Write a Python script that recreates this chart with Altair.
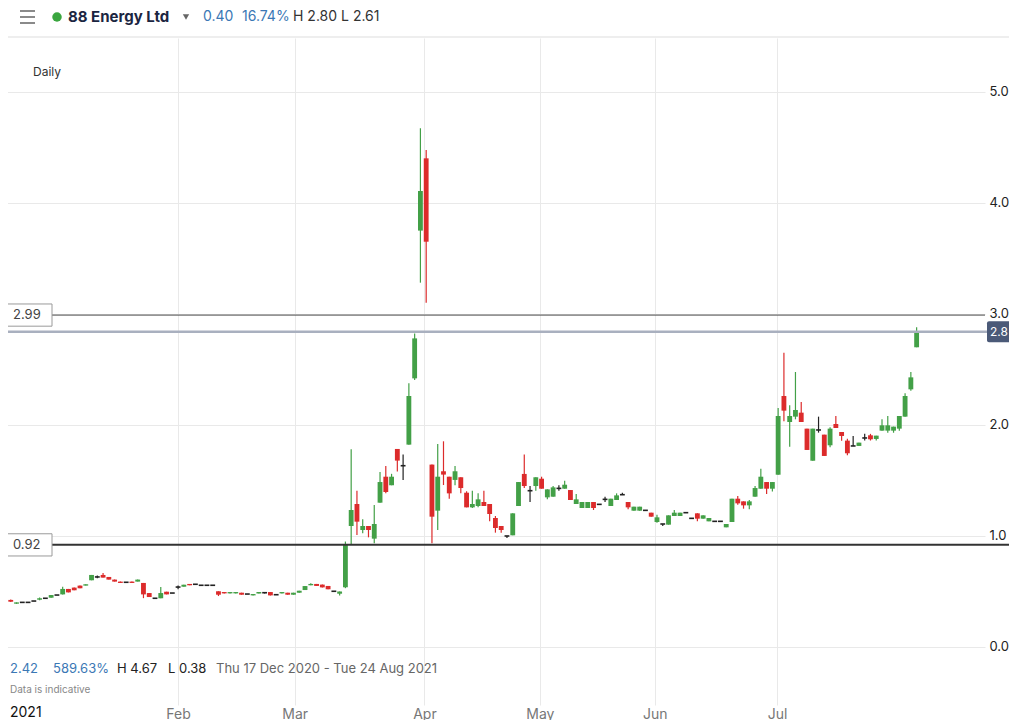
import altair as alt
import pandas as pd

# ---- OHLC data (one candle per trading day) ----
opens = [0.44, 0.424, 0.39, 0.402, 0.402, 0.414, 0.426, 0.439, 0.444, 0.468,
         0.474, 0.523, 0.535, 0.553, 0.553, 0.601, 0.631, 0.649, 0.631, 0.607,
         0.589, 0.583, 0.589, 0.589, 0.577, 0.486, 0.439, 0.439, 0.498, 0.486,
         0.54, 0.543, 0.568, 0.565, 0.556, 0.556, 0.556, 0.502, 0.495, 0.483,
         0.483, 0.489, 0.477, 0.465, 0.483, 0.489, 0.495, 0.471, 0.483, 0.489,
         0.471, 0.489, 0.513, 0.556, 0.568, 0.562, 0.55, 0.502, 0.48, 0.538,
         1.09, 1.288, 1.054, 1.09, 0.976, 1.30, 1.534, 1.457, 1.784, 1.633,
         1.823, 2.42, 3.751, 4.402, 1.643, 1.228, 1.583, 1.534, 1.505, 1.529,
         1.39, 1.258, 1.27, 1.306, 1.288, 1.162, 1.09, 1.0, 1.006, 1.27,
         1.559, 1.408, 1.45, 1.516, 1.348, 1.354, 1.429, 1.426, 1.414, 1.288,
         1.252, 1.252, 1.306, 1.285, 1.33, 1.27, 1.324, 1.372, 1.306, 1.228,
         1.228, 1.231, 1.21, 1.126, 1.108, 1.102, 1.18, 1.18, 1.21, 1.159,
         1.204, 1.156, 1.132, 1.132, 1.132, 1.078, 1.126, 1.336, 1.312, 1.276,
         1.354, 1.426, 1.486, 1.426, 1.552, 2.261, 2.027, 2.075, 2.111, 1.967,
         1.678, 1.955, 1.913, 1.817, 2.009, 1.937, 1.859, 1.811, 1.811, 1.883,
         1.907, 1.874, 1.949, 1.949, 1.949, 1.967, 2.075, 2.321, 2.70]
highs = [0.44, 0.428, 0.402, 0.402, 0.402, 0.414, 0.445, 0.442, 0.468, 0.468,
         0.543, 0.523, 0.535, 0.553, 0.565, 0.649, 0.645, 0.667, 0.631, 0.607,
         0.589, 0.583, 0.589, 0.607, 0.577, 0.486, 0.439, 0.541, 0.498, 0.486,
         0.555, 0.561, 0.568, 0.565, 0.556, 0.556, 0.556, 0.502, 0.495, 0.495,
         0.495, 0.489, 0.477, 0.477, 0.495, 0.495, 0.495, 0.471, 0.495, 0.489,
         0.489, 0.507, 0.549, 0.575, 0.568, 0.562, 0.55, 0.502, 0.50, 0.95,
         1.781, 1.408, 1.15, 1.09, 1.279, 1.577, 1.631, 1.56, 1.784, 1.733,
         2.375, 2.825, 4.673, 4.477, 1.643, 1.829, 1.853, 1.534, 1.631, 1.529,
         1.403, 1.408, 1.385, 1.408, 1.288, 1.18, 1.09, 1.0, 1.204, 1.486,
         1.733, 1.45, 1.529, 1.534, 1.42, 1.45, 1.456, 1.498, 1.414, 1.378,
         1.306, 1.306, 1.306, 1.285, 1.354, 1.336, 1.384, 1.39, 1.306, 1.264,
         1.264, 1.231, 1.21, 1.192, 1.108, 1.186, 1.234, 1.21, 1.21, 1.159,
         1.204, 1.186, 1.162, 1.132, 1.132, 1.108, 1.336, 1.36, 1.312, 1.324,
         1.45, 1.606, 1.486, 1.486, 2.153, 2.651, 2.177, 2.477, 2.207, 1.967,
         1.967, 2.075, 1.913, 1.98, 2.081, 1.937, 1.877, 1.901, 1.841, 1.92,
         1.92, 1.904, 2.051, 2.081, 1.985, 2.081, 2.285, 2.477, 2.88]
lows = [0.44, 0.405, 0.388, 0.402, 0.402, 0.414, 0.420, 0.436, 0.444, 0.468,
        0.474, 0.492, 0.511, 0.529, 0.553, 0.601, 0.62, 0.625, 0.607, 0.589,
        0.577, 0.583, 0.577, 0.589, 0.44, 0.45, 0.439, 0.439, 0.474, 0.486,
        0.52, 0.543, 0.556, 0.565, 0.556, 0.556, 0.556, 0.459, 0.483, 0.483,
        0.483, 0.471, 0.477, 0.465, 0.483, 0.483, 0.465, 0.471, 0.483, 0.471,
        0.471, 0.489, 0.513, 0.556, 0.55, 0.537, 0.52, 0.502, 0.465, 0.53,
        0.928, 1.009, 1.024, 0.988, 0.934, 1.30, 1.384, 1.457, 1.58, 1.505,
        1.823, 2.405, 3.282, 3.102, 0.934, 1.054, 1.459, 1.336, 1.457, 1.385,
        1.258, 1.252, 1.258, 1.27, 1.132, 1.03, 1.03, 0.982, 1.006, 1.27,
        1.432, 1.306, 1.408, 1.426, 1.33, 1.354, 1.408, 1.426, 1.324, 1.288,
        1.252, 1.252, 1.234, 1.285, 1.306, 1.27, 1.324, 1.372, 1.24, 1.228,
        1.228, 1.231, 1.174, 1.12, 1.09, 1.102, 1.18, 1.18, 1.21, 1.159,
        1.132, 1.156, 1.132, 1.132, 1.132, 1.078, 1.126, 1.282, 1.246, 1.24,
        1.354, 1.426, 1.378, 1.40, 1.552, 2.033, 1.805, 2.051, 2.027, 1.775,
        1.678, 1.931, 1.721, 1.80, 1.973, 1.859, 1.727, 1.811, 1.811, 1.86,
        1.86, 1.86, 1.949, 1.93, 1.93, 1.949, 2.075, 2.309, 2.70]
closes = [0.44, 0.408, 0.402, 0.402, 0.402, 0.414, 0.439, 0.439, 0.468, 0.468,
          0.523, 0.492, 0.511, 0.529, 0.565, 0.649, 0.631, 0.625, 0.607, 0.589,
          0.577, 0.583, 0.577, 0.607, 0.474, 0.45, 0.439, 0.486, 0.474, 0.486,
          0.54, 0.561, 0.556, 0.565, 0.556, 0.556, 0.556, 0.471, 0.483, 0.495,
          0.495, 0.471, 0.477, 0.477, 0.495, 0.489, 0.465, 0.471, 0.495, 0.471,
          0.489, 0.507, 0.549, 0.568, 0.55, 0.537, 0.52, 0.502, 0.50, 0.928,
          1.234, 1.129, 1.09, 1.054, 1.108, 1.486, 1.396, 1.534, 1.679, 1.633,
          2.261, 2.78, 4.108, 3.651, 1.174, 1.534, 1.553, 1.384, 1.583, 1.432,
          1.258, 1.288, 1.33, 1.27, 1.198, 1.072, 1.054, 1.0, 1.204, 1.486,
          1.45, 1.408, 1.529, 1.426, 1.42, 1.438, 1.429, 1.462, 1.324, 1.33,
          1.306, 1.306, 1.252, 1.285, 1.33, 1.336, 1.366, 1.372, 1.258, 1.264,
          1.264, 1.231, 1.174, 1.168, 1.108, 1.186, 1.21, 1.21, 1.21, 1.159,
          1.156, 1.186, 1.162, 1.132, 1.132, 1.108, 1.336, 1.294, 1.276, 1.312,
          1.432, 1.534, 1.426, 1.486, 2.081, 2.129, 2.081, 2.135, 2.027, 1.775,
          1.967, 1.955, 1.721, 1.967, 1.973, 1.901, 1.745, 1.811, 1.841, 1.883,
          1.871, 1.904, 1.997, 1.997, 1.985, 2.081, 2.261, 2.429, 2.84]

month_names = ["Feb", "Mar", "Apr", "May", "Jun", "Jul"]
month_pos = [30.0, 50.2, 72.7, 92.7, 112.6, 133.8]   # trading-day index of each month start
y_ticks = [0, 1, 2, 3, 4, 5]
level_values = [2.99, 0.92]
level_labels = ["2.99", "0.92"]
last_price = 2.84
last_label = "2.8"

GREEN = "#43a047"
RED = "#dc2b2b"
DOJI = "#222222"
BLUE = "#3b78b5"
FONT = "Inter"

PADL = -4          # plot starts at page x = 4, as in the reference
W, H = 981, 667


def px(page_x):
    """page x position -> plot x position"""
    return page_x - 8 - PADL


def py(page_y):
    """page y position -> plot y position"""
    return page_y - 38


df = pd.DataFrame({"i": list(range(len(opens))), "o": opens, "h": highs,
                   "l": lows, "c": closes})

xs = alt.Scale(domain=[-0.17, 169.85], nice=False, zero=False)
ys = alt.Scale(domain=[-0.5225, 5.486], nice=False, zero=False)

label_expr = " : ".join(
    f"abs(datum.value - {p}) < 0.01 ? '{n}'" for p, n in zip(month_pos, month_names)
) + " : ''"

xa = alt.Axis(values=month_pos, labelExpr=label_expr, title=None, grid=True,
              gridColor="#e9e9e9", ticks=False, domain=False, labelColor="#777777",
              labelFontSize=14, labelPadding=2, labelOverlap=False, labelFont=FONT)
ya = alt.Axis(orient="right", values=y_ticks, format=".1f", title=None, grid=True,
              gridColor="#e9e9e9", ticks=False, domain=False, labelColor="#222222",
              labelFontSize=13, labelPadding=4, labelFont=FONT)

color = alt.Color("dir:N", scale=alt.Scale(domain=["up", "down", "flat"],
                                            range=[GREEN, RED, DOJI]), legend=None)

base = alt.Chart(df).transform_calculate(
    dir="datum.c > datum.o + 0.004 ? 'up' : (datum.c < datum.o - 0.004 ? 'down' : 'flat')",
    xl="datum.i - 0.42",
    xr="datum.i + 0.42",
)

wicks = base.mark_rule(strokeWidth=1.2).encode(
    x=alt.X("i:Q", scale=xs, axis=xa),
    y=alt.Y("l:Q", scale=ys, axis=ya),
    y2="h:Q",
    color=color,
)
bodies = base.mark_rect().encode(
    x=alt.X("xl:Q", scale=xs, axis=xa),
    x2="xr:Q",
    y=alt.Y("o:Q", scale=ys, axis=ya),
    y2="c:Q",
    color=color,
)
dojis = base.transform_filter("datum.dir == 'flat'").mark_rule(strokeWidth=1.6).encode(
    x=alt.X("xl:Q", scale=xs, axis=xa),
    x2="xr:Q",
    y=alt.Y("c:Q", scale=ys, axis=ya),
    color=color,
)

# ---- horizontal level lines ----
lv = pd.DataFrame({"v": level_values, "t": level_labels})
line299 = alt.Chart(lv.iloc[[0]]).mark_rule(color="#4a4a4a", strokeWidth=1).encode(
    x=alt.value(px(52)), x2=alt.value(W), y=alt.Y("v:Q", scale=ys, axis=ya))
line092 = alt.Chart(lv.iloc[[1]]).mark_rule(color="#333333", strokeWidth=2).encode(
    x=alt.value(px(52)), x2=alt.value(W + 40), y=alt.Y("v:Q", scale=ys, axis=ya))
boxes = alt.Chart(lv).transform_calculate(
    top="datum.v + 0.1", bot="datum.v - 0.1"
).mark_rect(fill="white", stroke="#9a9a9a", strokeWidth=1).encode(
    x=alt.value(px(5)), x2=alt.value(px(52)),
    y=alt.Y("top:Q", scale=ys, axis=ya), y2="bot:Q")
box_text = alt.Chart(lv).mark_text(align="left", baseline="middle", fontSize=13,
                                   color="#444444", font=FONT).encode(
    x=alt.value(px(13)), y=alt.Y("v:Q", scale=ys, axis=ya), text="t:N")

lp = pd.DataFrame({"v": [last_price], "t": [last_label]})
price_line = alt.Chart(lp).mark_rule(color="#a9b0bf", strokeWidth=2.5).encode(
    x=alt.value(px(5)), x2=alt.value(px(988)), y=alt.Y("v:Q", scale=ys, axis=ya))
price_box = alt.Chart(lp).transform_calculate(
    top="datum.v + 0.095", bot="datum.v - 0.095"
).mark_rect(fill="#4b5a78", cornerRadius=2).encode(
    x=alt.value(px(987)), x2=alt.value(px(1020)),
    y=alt.Y("top:Q", scale=ys, axis=ya), y2="bot:Q")
price_text = alt.Chart(lp).mark_text(align="left", baseline="middle", fontSize=12,
                                     color="white", font=FONT).encode(
    x=alt.value(px(990)), y=alt.Y("v:Q", scale=ys, axis=ya), text="t:N")

one = pd.DataFrame({"k": [0]})


def txt(s, x, y, size=13, col="#333333", weight="normal", align="left"):
    return alt.Chart(one).mark_text(align=align, baseline="middle", fontSize=size,
                                    color=col, fontWeight=weight, font=FONT).encode(
        x=alt.value(px(x)), y=alt.value(py(y)), text=alt.value(s))


def hline(x1, x2, y, col, w=1):
    return alt.Chart(one).mark_rule(color=col, strokeWidth=w).encode(
        x=alt.value(px(x1)), x2=alt.value(px(x2)), y=alt.value(py(y)))


def vline(x, y1, y2, col, w=1):
    return alt.Chart(one).mark_rule(color=col, strokeWidth=w).encode(
        x=alt.value(px(x)), y=alt.value(py(y1)), y2=alt.value(py(y2)))


decor = [
    hline(4, 1017, 37, "#dddddd"),
    vline(4.5, 0, 728, "#dddddd"),
    hline(20, 35, 11, "#8a8a8a", 2),
    hline(20, 35, 17, "#8a8a8a", 2),
    hline(20, 35, 23, "#8a8a8a", 2),
    alt.Chart(one).mark_point(filled=True, shape="circle", size=90, color="#3aa63f",
                              opacity=1).encode(x=alt.value(px(57)), y=alt.value(py(17))),
    txt("88 Energy Ltd", 68, 17, 15, "#1b2541", "bold"),
    alt.Chart(one).mark_point(filled=True, shape="triangle-down", size=40, color="#666666",
                              opacity=1).encode(x=alt.value(px(186)), y=alt.value(py(17))),
    txt("0.40", 203, 17, 14, BLUE),
    txt("16.74%", 242, 17, 14, BLUE),
    txt("H 2.80 L 2.61", 293, 17, 14, "#333333"),
    txt("Daily", 33, 72, 12, "#333333"),
    txt("2.42", 10, 669, 13, BLUE),
    txt("589.63%", 53, 669, 13, BLUE),
    txt("H 4.67", 117, 669, 13, "#222222"),
    txt("L 0.38", 168, 669, 13, "#222222"),
    txt("Thu 17 Dec 2020 - Tue 24 Aug 2021", 216, 669, 13, "#666666"),
    txt("Data is indicative", 10, 690, 10, "#888888"),
    txt("2021", 10, 713, 14, "#111111"),
]

chart = alt.layer(
    wicks, bodies, dojis, line299, line092, boxes, box_text,
    price_line, price_box, price_text, *decor
).properties(
    width=W, height=H,
    autosize=alt.AutoSizeParams(type="none"),
    padding={"left": PADL, "top": 30, "right": 1001 - W - PADL, "bottom": 15},
    background="white",
).configure_view(strokeWidth=0)

chart.save("out.html", embed_options={"renderer": "svg", "actions": False})
